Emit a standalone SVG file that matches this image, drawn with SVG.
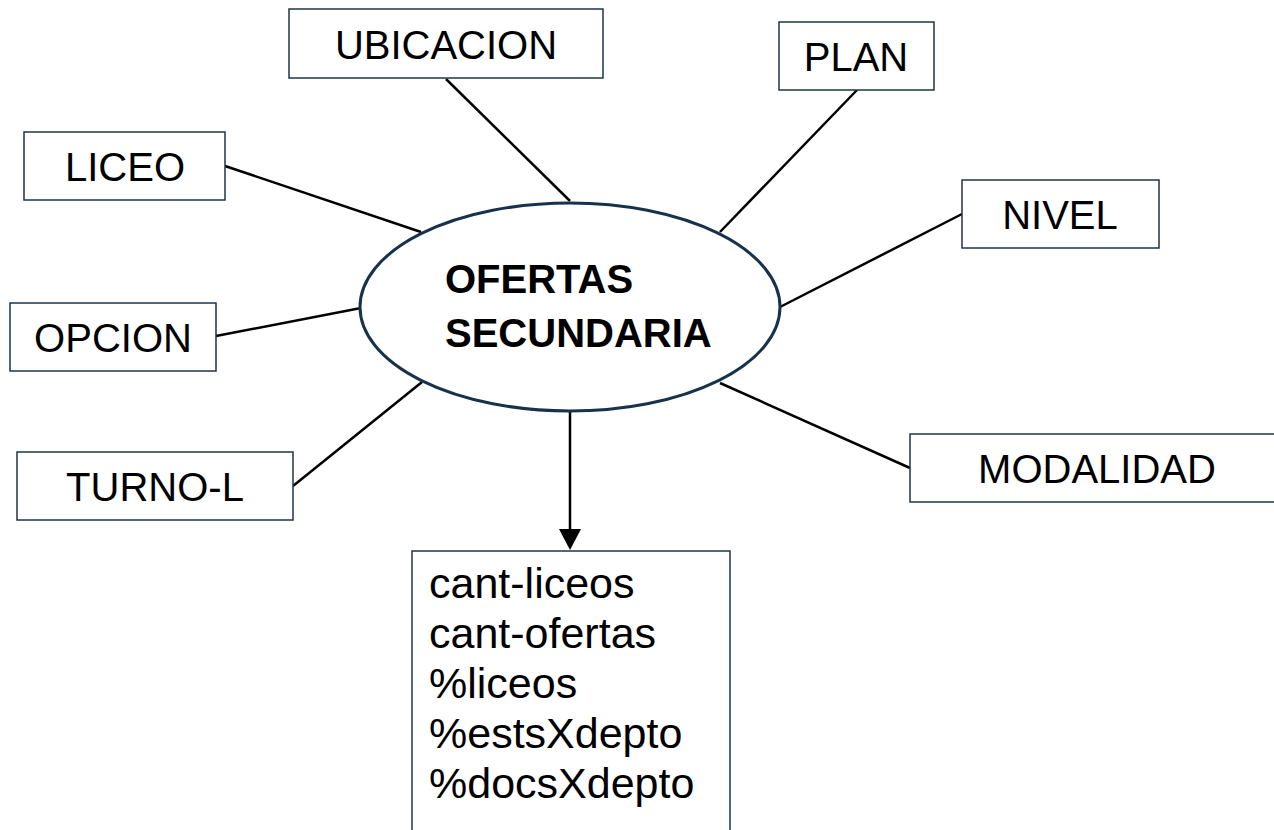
<svg xmlns="http://www.w3.org/2000/svg" width="1274" height="830" viewBox="0 0 1274 830">
<defs>
<style>
.box{fill:#fff;stroke:#1f3546;stroke-width:1.5}
.lbl{font-family:"Liberation Sans",Arial,sans-serif;font-size:40px;fill:#000;text-anchor:middle}
.ln{stroke:#000;stroke-width:2.5;fill:none}
.big{font-family:"Liberation Sans",Arial,sans-serif;font-size:40px;font-weight:bold;fill:#000}
.lst{font-family:"Liberation Sans",Arial,sans-serif;font-size:43px;fill:#000}
</style>
</defs>
<rect width="1274" height="830" fill="#fff"/>
<g id="connectors">
<line class="ln" x1="446" y1="79" x2="570" y2="201"/>
<line class="ln" x1="857" y1="90" x2="720" y2="232"/>
<line class="ln" x1="225" y1="166" x2="421" y2="232"/>
<line class="ln" x1="962" y1="214" x2="780" y2="307"/>
<line class="ln" x1="216" y1="336" x2="361" y2="308"/>
<line class="ln" x1="293" y1="486" x2="422" y2="382"/>
<line class="ln" x1="910" y1="468" x2="720" y2="383"/>
<line class="ln" x1="570" y1="412" x2="570" y2="530"/>
<path d="M559,529 L581,529 L570,550 z" fill="#000"/>
</g>
<g id="center">
<ellipse cx="570" cy="307" rx="210" ry="104" fill="#fff" stroke="#17324a" stroke-width="3"/>
<text class="big" x="445" y="293">OFERTAS</text>
<text class="big" x="445" y="347">SECUNDARIA</text>
</g>
<g id="ubicacion">
<rect class="box" x="289" y="9" width="314" height="69"/>
<text class="lbl" x="446" y="59">UBICACION</text>
</g>
<g id="plan">
<rect class="box" x="779" y="22" width="155" height="68"/>
<text class="lbl" x="856" y="71">PLAN</text>
</g>
<g id="liceo">
<rect class="box" x="24" y="132" width="201" height="68"/>
<text class="lbl" x="125" y="181">LICEO</text>
</g>
<g id="nivel">
<rect class="box" x="962" y="180" width="197" height="68"/>
<text class="lbl" x="1060" y="229">NIVEL</text>
</g>
<g id="opcion">
<rect class="box" x="10" y="303" width="206" height="68"/>
<text class="lbl" x="113" y="352">OPCION</text>
</g>
<g id="turno">
<rect class="box" x="17" y="452" width="276" height="68"/>
<text class="lbl" x="155" y="501">TURNO-L</text>
</g>
<g id="modalidad">
<rect class="box" x="910" y="434" width="380" height="68"/>
<text class="lbl" x="1097" y="483">MODALIDAD</text>
</g>
<g id="metrics">
<path class="box" d="M412,832 L412,551 L730,551 L730,832"/>
<text class="lst" x="429" y="598">cant-liceos</text>
<text class="lst" x="429" y="648">cant-ofertas</text>
<text class="lst" x="429" y="698">%liceos</text>
<text class="lst" x="429" y="748">%estsXdepto</text>
<text class="lst" x="429" y="798">%docsXdepto</text>
</g>
</svg>
